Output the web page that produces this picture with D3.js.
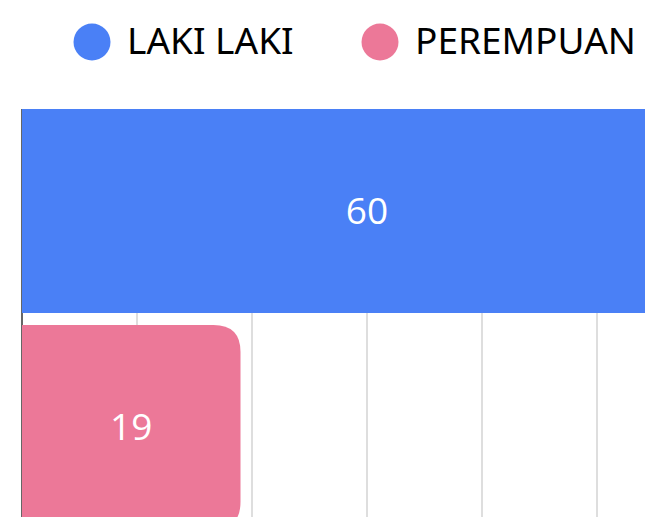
<!DOCTYPE html>
<html>
<head>
<meta charset="utf-8">
<script src="https://cdn.jsdelivr.net/npm/d3@7"></script>
<style>
  html, body { margin: 0; padding: 0; background: #fff; overflow: hidden; }
  svg { display: block; }
</style>
</head>
<body>
<svg id="chart"></svg>
<script>
let w = 645;
let h = 517;

// data
let titleText = "Berdasarkan Gender";
let categories = ["LAKI LAKI", "PEREMPUAN"];
let values = [60, 19];
let colors = ["#4a80f6", "#ec7898"];
let gridTicks = [10, 20, 30, 40, 50];

let chart = d3.select("#chart")
    .attr("width", w)
    .attr("height", h);

// scales
let xScale = d3.scaleLinear()
    .domain([0, 60])
    .range([22, 712]);

let yScale = d3.scaleBand()
    .domain(categories)
    .range([109, 529])
    .paddingInner(12 / 216)
    .paddingOuter(0);

// title (cut off at the top, as in the original screenshot)
chart.append("text")
    .attr("x", 272)
    .attr("y", -4)
    .attr("text-anchor", "middle")
    .attr("font-family", "Lato, 'Noto Sans', sans-serif")
    .attr("font-weight", "bold")
    .attr("font-size", 48)
    .attr("fill", "#1f2b78")
    .text(titleText);

// legend
let legendX = [92, 380];
let legend = chart.append("g")
    .selectAll("g")
    .data(categories)
    .enter().append("g")
    .attr("transform", (d, i) => `translate(${legendX[i]}, 42)`);

legend.append("circle")
    .attr("r", 18.5)
    .attr("fill", (d, i) => colors[i]);

legend.append("text")
    .attr("x", 35)
    .attr("y", 12)
    .attr("font-family", "'Noto Sans', sans-serif")
    .attr("font-size", 37)
    .attr("fill", "#000")
    .text(d => d);

// gridlines
chart.append("g")
    .selectAll("line")
    .data(gridTicks)
    .enter().append("line")
    .attr("x1", d => xScale(d))
    .attr("x2", d => xScale(d))
    .attr("y1", 109)
    .attr("y2", h + 20)
    .attr("stroke", "#d3d3d3")
    .attr("stroke-width", 1.5);

// left axis line
chart.append("line")
    .attr("x1", xScale(0))
    .attr("x2", xScale(0))
    .attr("y1", 109)
    .attr("y2", h + 20)
    .attr("stroke", "#666")
    .attr("stroke-width", 2);

// bars, right corners rounded
function barPath(x0, x1, y0, y1, r) {
    r = Math.min(r, (x1 - x0), (y1 - y0) / 2);
    return `M${x0},${y0} H${x1 - r} Q${x1},${y0} ${x1},${y0 + r}` +
        ` V${y1 - r} Q${x1},${y1} ${x1 - r},${y1} H${x0} Z`;
}

let bars = chart.append("g")
    .selectAll("g")
    .data(categories)
    .enter().append("g");

bars.append("path")
    .attr("d", (d, i) => {
        let y0 = yScale(d);
        return barPath(xScale(0), xScale(values[i]), y0, y0 + yScale.bandwidth(), 27);
    })
    .attr("fill", (d, i) => colors[i]);

bars.append("text")
    .attr("x", (d, i) => (xScale(0) + xScale(values[i])) / 2)
    .attr("y", d => yScale(d) + yScale.bandwidth() / 2)
    .attr("dy", "0.36em")
    .attr("text-anchor", "middle")
    .attr("font-family", "'Open Sans', sans-serif")
    .attr("font-size", 37)
    .attr("fill", "#fff")
    .text((d, i) => values[i]);
</script>
</body>
</html>
